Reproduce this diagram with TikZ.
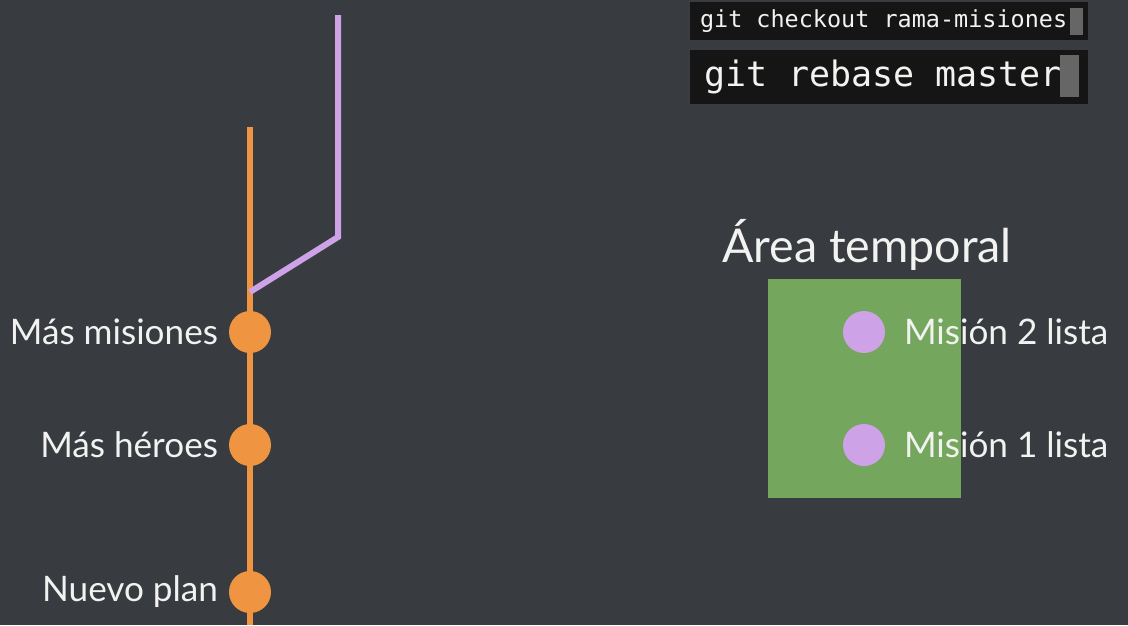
\documentclass[tikz,border=0pt]{standalone}
\usepackage{fontspec}
\setmainfont{Lato}
\setmonofont{DejaVu Sans Mono}
\usetikzlibrary{positioning}

\definecolor{board}{HTML}{383B40}
\definecolor{chalk}{HTML}{F2F2F0}
\definecolor{master}{HTML}{EF9440}
\definecolor{branch}{HTML}{CDA2E6}
\definecolor{stage}{HTML}{74A65E}
\definecolor{term}{HTML}{151515}
\definecolor{cursor}{HTML}{666666}

\tikzset{
  commit/.style={circle, fill=master, inner sep=0pt, minimum size=8.4mm},
  pick/.style={circle, fill=branch, inner sep=0pt, minimum size=8.4mm},
  chalktext/.style={text=chalk, inner sep=0pt, font=\fontsize{20}{23}\selectfont},
  termtext/.style={text=chalk, inner sep=0pt, anchor=west, font=\ttfamily},
}

\begin{document}
\begin{tikzpicture}[x=0.2mm, y=-0.2mm, line width=1.2mm]
  % board
  \fill[board] (0,0) rectangle (1128,625);
  \useasboundingbox (0,0) rectangle (1128,625);

  % terminal lines
  \fill[term] (690,2) rectangle (1088,40);
  \fill[cursor] (1070,8) rectangle (1083,35);
  \node[termtext, font=\ttfamily\fontsize{13.35}{15}\selectfont] (cmd1) at (697,21) {git checkout rama-misiones};

  \fill[term] (690,50) rectangle (1088,104);
  \fill[cursor] (1060,55) rectangle (1079,97);
  \node[termtext, font=\ttfamily\fontsize{19.9}{22}\selectfont] (cmd2) at (701,77) {git rebase master};

  % master branch
  \coordinate (m_top) at (250,127);
  \coordinate (m_bot) at (250,625);
  \draw[master] (m_bot) -- (m_top);

  % feature branch, forked off master
  \coordinate (fork) at (250,292);
  \coordinate (bend) at (338,237);
  \coordinate (b_tip) at (338,15);
  \draw[branch, line join=miter] (fork) -- (bend) -- (b_tip);

  \node[commit] (c1) at (250,592) {};
  \node[commit] (c2) at (250,445) {};
  \node[commit] (c3) at (250,332) {};

  \node[chalktext, left=1mm of c1] {Nuevo plan};
  \node[chalktext, left=1mm of c2] {Más héroes};
  \node[chalktext, left=1mm of c3] {Más misiones};

  % temporary area with the set-aside commits
  \fill[stage] (768,279) rectangle (961,498);
  \node[chalktext, anchor=base west, font=\fontsize{26.5}{30}\selectfont] (area) at (719,262) {Área temporal};

  \node[pick] (p2) at (864,332) {};
  \node[pick] (p1) at (864,445) {};
  \node[chalktext, right=2.6mm of p2] {Misión 2 lista};
  \node[chalktext, right=2.6mm of p1] {Misión 1 lista};
\end{tikzpicture}
\end{document}
